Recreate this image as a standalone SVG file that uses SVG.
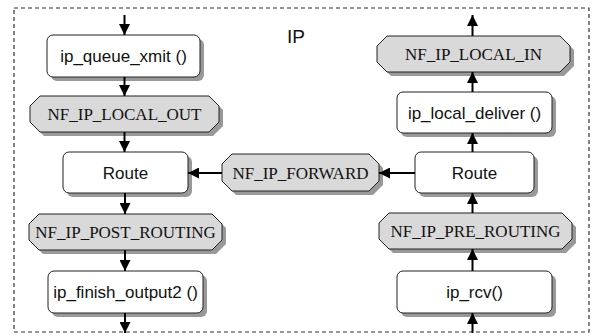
<svg xmlns="http://www.w3.org/2000/svg" width="596" height="336" viewBox="0 0 596 336">
<style>
.frame{fill:none;stroke:#333;stroke-width:1.2;stroke-dasharray:4,3}
.shadow{fill:#999;stroke:none}
.box{fill:#fff;stroke:#222;stroke-width:1}
.hook{fill:#d9d9d9;stroke:#222;stroke-width:1}
.t{font-family:"Liberation Sans",Arial,sans-serif;font-size:17px;fill:#111;text-anchor:middle}
.s{font-family:"Liberation Serif","Times New Roman",serif;font-size:17px;fill:#111;text-anchor:middle}
.edge{stroke:#000;stroke-width:2;fill:none;marker-end:url(#ah)}
</style>
<defs>
<marker id="ah" markerUnits="userSpaceOnUse" markerWidth="11" markerHeight="11" viewBox="0 0 10 10" refX="10" refY="5" orient="auto">
<path d="M0,0 L10,5 L0,10 z" fill="#000"/>
</marker>
</defs>
<rect class="frame" x="14" y="8" width="575" height="324"/>
<text x="296" y="43" font-family="Liberation Sans,Arial,sans-serif" font-size="19" fill="#111" text-anchor="middle">IP</text>

<g id="ip_queue_xmit">
<rect class="shadow" x="51" y="39" width="153" height="42" rx="6"/>
<rect class="box" x="47" y="35" width="153" height="42" rx="6"/>
<text class="t" x="123.5" y="62">ip_queue_xmit ()</text>
</g>
<g id="NF_IP_LOCAL_OUT">
<path class="shadow" d="M44,100 H213 L223,110 V126 L213,136 H44 L34,126 V110 Z"/>
<path class="hook" d="M40,96 H209 L219,106 V122 L209,132 H40 L30,122 V106 Z"/>
<text class="s" x="124.5" y="120">NF_IP_LOCAL_OUT</text>
</g>
<g id="route_left">
<rect class="shadow" x="67" y="156" width="125" height="41" rx="6"/>
<rect class="box" x="63" y="152" width="125" height="41" rx="6"/>
<text class="t" x="125.5" y="179">Route</text>
</g>
<g id="NF_IP_POST_ROUTING">
<path class="shadow" d="M43,218 H216 L226,228 V244 L216,254 H43 L33,244 V228 Z"/>
<path class="hook" d="M39,214 H212 L222,224 V240 L212,250 H39 L29,240 V224 Z"/>
<text class="s" x="125.5" y="238">NF_IP_POST_ROUTING</text>
</g>
<g id="ip_finish_output2">
<rect class="shadow" x="52" y="275" width="155" height="42" rx="6"/>
<rect class="box" x="48" y="271" width="155" height="42" rx="6"/>
<text class="t" x="125.5" y="298">ip_finish_output2 ()</text>
</g>

<g id="NF_IP_LOCAL_IN">
<path class="shadow" d="M391,40 H564 L574,50 V66 L564,76 H391 L381,66 V50 Z"/>
<path class="hook" d="M387,36 H560 L570,46 V62 L560,72 H387 L377,62 V46 Z"/>
<text class="s" x="473.5" y="60">NF_IP_LOCAL_IN</text>
</g>
<g id="ip_local_deliver">
<rect class="shadow" x="401" y="96" width="155" height="41" rx="6"/>
<rect class="box" x="397" y="92" width="155" height="41" rx="6"/>
<text class="t" x="474.5" y="119">ip_local_deliver ()</text>
</g>
<g id="route_right">
<rect class="shadow" x="419" y="156" width="119" height="41" rx="6"/>
<rect class="box" x="415" y="152" width="119" height="41" rx="6"/>
<text class="t" x="474.5" y="179">Route</text>
</g>
<g id="NF_IP_FORWARD">
<path class="shadow" d="M236,158 H373 L383,168 V185 L373,195 H236 L226,185 V168 Z"/>
<path class="hook" d="M232,154 H369 L379,164 V181 L369,191 H232 L222,181 V164 Z"/>
<text class="s" x="300.5" y="179">NF_IP_FORWARD</text>
</g>
<g id="NF_IP_PRE_ROUTING">
<path class="shadow" d="M393,217 H566 L576,227 V243 L566,253 H393 L383,243 V227 Z"/>
<path class="hook" d="M389,213 H562 L572,223 V239 L562,249 H389 L379,239 V223 Z"/>
<text class="s" x="475.5" y="237">NF_IP_PRE_ROUTING</text>
</g>
<g id="ip_rcv">
<rect class="shadow" x="401" y="275" width="155" height="42" rx="6"/>
<rect class="box" x="397" y="271" width="155" height="42" rx="6"/>
<text class="t" x="474.5" y="298">ip_rcv()</text>
</g>

<g id="connectors">
<line class="edge" x1="124.5" y1="15" x2="124.5" y2="35"/>
<line class="edge" x1="124.5" y1="77" x2="124.5" y2="96"/>
<line class="edge" x1="124.5" y1="132" x2="124.5" y2="152"/>
<line class="edge" x1="125" y1="193" x2="125" y2="214"/>
<line class="edge" x1="125" y1="250" x2="125" y2="271"/>
<line class="edge" x1="125" y1="313" x2="125" y2="333"/>
<line class="edge" x1="472.5" y1="333" x2="472.5" y2="313"/>
<line class="edge" x1="472.5" y1="271" x2="472.5" y2="249"/>
<line class="edge" x1="472.5" y1="213" x2="472.5" y2="193"/>
<line class="edge" x1="472.5" y1="152" x2="472.5" y2="133"/>
<line class="edge" x1="472.5" y1="92" x2="472.5" y2="72"/>
<line class="edge" x1="472.5" y1="36" x2="472.5" y2="15"/>
<line class="edge" x1="415" y1="173" x2="379" y2="173"/>
<line class="edge" x1="222" y1="173" x2="188" y2="173"/>
</g>
</svg>
